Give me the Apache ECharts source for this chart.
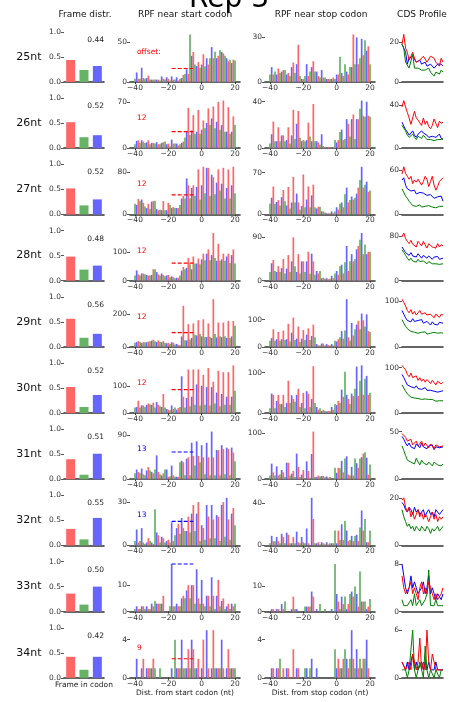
<!DOCTYPE html>
<html>
<head>
<meta charset="utf-8">
<script src="https://cdn.jsdelivr.net/npm/echarts@6/dist/echarts.min.js"></script>
<style>
html, body { margin: 0; padding: 0; background: #fff; }
#chart { width: 458px; height: 702px; }
</style>
</head>
<body>
<div id="chart"></div>
<script>
// read lengths, one row each
const readLengths = ['25nt', '26nt', '27nt', '28nt', '29nt', '30nt', '31nt', '32nt', '33nt', '34nt'];

// frame distribution (frame 0 red, frame 1 green, frame 2 blue)
const frame0 = [0.44, 0.52, 0.52, 0.48, 0.56, 0.52, 0.40, 0.33, 0.36, 0.42];
const frame1 = [0.24, 0.22, 0.18, 0.22, 0.18, 0.12, 0.09, 0.12, 0.14, 0.16];
const frame2 = [0.32, 0.26, 0.30, 0.30, 0.26, 0.36, 0.51, 0.55, 0.50, 0.42];

// p-site offset annotation
const offsetLabels = ['offset:', '12', '12', '12', '12', '12', '13', '13', '', '9'];
const offsetFrame = ['r', 'r', 'r', 'r', 'r', 'r', 'b', 'b', 'b', 'r'];
const offsetLineY = [17, 25, 37, 62, 88, 86, 56, 16.6, 18, 2];
const offsetLineX = [-18, -5];

// y tick shown besides 0
const startTicks = [50, 70, 80, 100, 200, 100, 90, 30, 10, 4];
const stopTicks = [30, 40, 70, 90, 100, 100, 100, 40, 10, 4];
const cdsTicks = [20, 40, 60, 80, 100, 100, 50, 20, 8, 6];

// positions -40 .. 20
const positions = [];
for (let p = -40; p <= 20; p++) positions.push(p);

// counts near start codon, positions -40..20
const start25 = [4, 12,4,4, 18,5,4, 5,8,3, 3,3,3, 3,3,2, 7,4,3, 6,4,2, 7,3,3, 6,2,4, 5,9,10, 16,10,60, 33,38,22, 20,25,18, 22,35,20, 30,22,30, 44,30,38, 30,33,40, 38,36,33, 30,26,28, 24,28,27];
const start26 = [6, 11,12,8, 12,10,8, 9,12,6, 8,8,7, 9,6,6, 8,9,10, 6,7,3, 13,7,7, 7,4,6, 8,10,16, 26,61,20, 27,50,22, 25,58,22, 28,42,30, 38,60,35, 45,63,30, 40,70,28, 35,72,25, 25,62,22, 25,48,35];
const start27 = [20, 18,29,25, 28,22,15, 12,20,10, 24,25,26, 10,8,9, 8,25,8, 8,22,18, 12,14,12, 12,12,18, 30,35,30, 68,55,30, 50,55,35, 52,85,28, 55,90,40, 88,88,35, 75,70,38, 60,85,45, 58,88,30, 50,85,30, 55,90,40];
const start28 = [18, 36,22,18, 25,25,22, 20,18,18, 20,40,40, 30,22,18, 25,20,15, 18,20,12, 15,12,8, 10,10,18, 35,48,40, 45,80,58, 40,85,60, 60,78,58, 75,95,72, 95,110,72, 90,168,80, 70,130,70, 75,95,70, 85,95,62, 90,110,60];
const start29 = [25, 30,35,30, 25,28,28, 28,32,35, 38,44,35, 30,40,30, 28,35,25, 22,25,18, 28,25,15, 18,12,10, 64,254,40, 40,140,45, 55,145,75, 70,165,80, 65,170,60, 60,145,60, 55,295,80, 58,150,65, 60,150,65, 55,160,55, 65,160,130];
const start30 = [20, 22,45,20, 28,28,22, 30,35,32, 30,38,20, 40,30,25, 22,70,20, 15,12,10, 28,15,20, 12,18,22, 135,60,20, 55,160,25, 60,160,30, 105,160,28, 100,140,30, 95,165,28, 95,115,35, 75,155,25, 70,150,30, 60,150,30, 60,175,82];
const start31 = [12, 20,15,12, 22,10,8, 18,25,18, 15,12,20, 49,15,10, 8,12,20, 20,5,6, 28,8,5, 5,5,35, 38,35,8, 42,45,8, 75,48,28, 78,48,35, 70,45,10, 75,45,8, 98,45,8, 60,60,8, 70,62,10, 65,62,8, 65,55,37];
const start32 = [3, 11,2,3, 12,2,1, 2,5,3, 2,1,25, 9,7,2, 6,5,2, 3,4,2, 16,3,7, 12,15,8, 19,12,10, 10,20,9, 22,28,10, 22,30,3, 14,12,4, 28,20,5, 28,18,5, 21,20,3, 28,30,6, 33,18,4, 22,26,14];
const start33 = [1, 2,1,1, 2,2,1, 2,1,1, 3,2,4, 3,3,3, 3,6,0, 0,0,2, 18,2,2, 3,2,2, 5,6,5, 8,10,5, 10,10,3, 16,5,3, 12,3,2, 6,6,2, 13,6,1, 6,12,2, 4,5,1, 2,3,1, 3,2,3];
const start34 = [0, 2,0,0, 1,2,0, 1,1,1, 1,2,1, 0,0,1, 0,0,0, 0,0,0, 1,0,4, 1,1,1, 4,1,1, 1,3,1, 4,3,1, 1,2,0, 1,4,0, 5,1,0, 1,5,1, 1,1,1, 4,1,0, 1,3,1, 1,1,1];
const startCounts = [start25, start26, start27, start28, start29, start30, start31, start32, start33, start34];

// counts near stop codon, positions -40..20
const stop25 = [5, 10,5,7, 5,9,6, 7,8,8, 5,6,4, 10,13,6, 12,25,4, 2,2,4, 12,4,7, 10,14,7, 7,4,3, 8,3,3, 2,2,2, 2,3,2, 5,5,17, 6,4,12, 7,5,10, 10,32,12, 30,12,16, 29,18,28, 21,24,12];
const stop26 = [4, 12,23,6, 6,18,6, 11,11,6, 7,18,4, 11,33,8, 21,32,9, 6,7,6, 7,22,10, 6,38,6, 6,5,3, 12,2,1, 1,1,1, 1,1,7, 5,7,14, 16,7,8, 25,21,10, 25,29,8, 25,25,34, 41,28,27, 40,28,27];
const stop27 = [18, 28,47,18, 21,24,15, 29,41,22, 15,46,10, 20,63,20, 35,20,8, 14,67,12, 25,47,12, 32,50,12, 10,13,13, 5,5,3, 2,2,2, 5,2,5, 12,8,18, 20,12,34, 45,20,24, 30,25,28, 35,45,58, 80,45,50, 55,38,40];
const stop28 = [18, 36,43,20, 18,30,18, 26,45,15, 25,53,18, 40,90,30, 18,55,15, 40,40,18, 40,60,14, 56,40,12, 20,15,20, 5,6,4, 5,3,4, 10,5,15, 20,12,30, 33,15,38, 72,20,40, 55,40,45, 65,72,85, 99,55,75, 55,60,60];
const stop29 = [22, 32,65,22, 28,55,22, 28,60,25, 28,85,20, 52,108,25, 30,75,18, 30,62,25, 45,68,25, 40,82,35, 10,5,5, 12,12,5, 10,6,5, 10,5,22, 20,28,35, 58,30,60, 176,35,22, 88,42,65, 82,96,65, 123,98,75, 120,58,55];
const stop30 = [12, 48,45,12, 30,45,22, 22,45,15, 25,80,25, 44,35,28, 45,60,15, 25,50,12, 54,48,15, 35,116,25, 15,8,12, 5,8,5, 4,5,5, 15,8,22, 20,30,25, 58,40,102, 45,35,22, 48,42,60, 115,42,80, 118,45,85, 92,45,50];
const stop31 = [8, 34,15,8, 28,8,10, 20,15,5, 36,36,8, 12,18,5, 56,27,5, 10,20,2, 39,18,3, 55,104,5, 5,8,6, 7,7,4, 6,3,5, 2,2,25, 14,25,24, 40,15,45, 50,10,8, 27,8,45, 35,25,45, 48,56,59, 47,10,32];
const stop32 = [2, 9,4,4, 8,4,2, 11,8,2, 12,10,2, 2,8,2, 13,3,2, 8,3,2, 16,2,0, 45,25,2, 2,3,1, 3,2,1, 3,1,2, 2,2,14, 2,14,5, 20,5,23, 14,4,5, 9,4,9, 10,4,17, 33,14,25, 3,3,14];
const stop33 = [0, 1,1,0, 1,1,0, 3,1,4, 0,0,0, 1,6,1, 1,0,0, 0,0,2, 2,2,2, 8,6,0, 1,0,3, 0,0,1, 0,0,0, 1,0,19, 7,4,1, 6,3,6, 1,3,7, 8,6,10, 7,2,16, 4,4,4, 1,2,5];
const stop34 = [0, 1,1,0, 1,1,2, 0,1,0, 1,1,0, 0,3,0, 1,1,0, 0,0,1, 1,0,1, 2,0,0, 1,0,0, 0,0,0, 0,0,0, 0,0,3, 1,2,1, 1,2,3, 2,1,2, 5,2,1, 3,1,2, 1,2,2, 4,1,0];
const stopCounts = [stop25, stop26, stop27, stop28, stop29, stop30, stop31, stop32, stop33, stop34];

// CDS profile per frame
const cdsRed = [
  [19,24,17,15,11,13,15,12,10,11,11,12,13,13,10,11,13,14,12,10,9,8,12,10],
  [38,44,38,33,28,22,21,34,28,26,25,21,28,22,25,20,18,21,27,23,19,25,23,24],
  [55,65,56,52,48,52,42,47,44,48,50,40,45,52,48,38,45,52,40,33,38,45,45,50],
  [78,85,75,70,66,72,65,68,60,70,66,62,70,64,58,66,68,60,62,58,66,60,64,62],
  [105,98,90,80,75,82,72,78,70,74,80,72,68,75,70,66,72,70,64,72,68,65,72,70],
  [105,100,95,85,80,88,78,75,82,72,78,70,75,68,74,70,65,72,68,62,70,66,64,68],
  [48,50,44,40,38,42,36,38,40,35,37,40,34,38,36,33,37,35,32,36,38,34,33,35],
  [19,20,16,14,16,12,14,11,13,15,12,14,11,13,12,10,12,14,11,13,10,12,11,12],
  [6,4,3,3,4,5,3,4,3,2,4,5,3,4,3,5,4,3,2,3,2,2,3,4],
  [2,2,1,1,2,1,3,2,1,2,5,1,2,1,6,2,1,3,2,1,1,1,1,1]
];
const cdsGreen = [
  [19,17,10,9,7,6,14,7,6,7,7,6,7,6,6,7,5,6,3,5,5,4,6,5],
  [21,22,16,12,10,11,13,10,8,11,12,9,12,10,8,7,8,9,7,6,8,9,8,9],
  [35,33,25,22,18,15,12,14,11,10,13,10,12,11,10,12,14,10,11,9,10,11,10,11],
  [55,50,45,40,36,40,35,36,33,38,34,31,35,33,30,34,32,30,33,30,32,29,31,30],
  [60,52,45,40,38,34,38,32,35,30,34,32,30,33,28,31,30,28,32,29,30,28,31,30],
  [62,55,48,42,40,35,38,33,36,32,34,30,32,31,28,30,27,30,28,26,28,27,26,27],
  [35,30,25,20,22,18,20,16,22,18,15,20,17,18,15,18,16,14,18,16,15,17,14,16],
  [15,12,10,8,9,7,8,6,8,7,6,8,7,6,8,7,5,7,6,7,8,6,7,8],
  [2,1,1,1,1,2,1,3,1,1,2,1,1,2,3,7,1,1,1,2,1,1,1,1],
  [1,1,1,0,1,1,6,1,0,1,2,1,0,4,1,0,1,1,0,1,1,0,1,1]
];
const cdsBlue = [
  [19,17,15,9,12,11,13,14,10,10,11,9,10,10,8,9,9,8,7,7,9,8,9,8],
  [24,23,17,15,12,14,16,12,10,13,12,16,14,13,12,10,9,11,12,10,9,13,9,8],
  [47,50,40,35,34,32,30,33,28,26,30,32,29,27,26,25,27,26,22,24,24,22,25,18],
  [60,58,50,48,45,50,44,46,42,48,44,40,45,42,40,44,41,38,42,40,43,38,41,40],
  [80,72,64,58,60,55,62,56,52,58,55,60,52,50,56,52,48,55,50,52,48,54,50,52],
  [85,78,70,62,66,58,62,55,60,54,58,52,55,56,50,54,50,52,48,50,46,50,48,49],
  [45,42,38,35,38,34,36,32,37,35,33,38,34,36,32,35,33,36,31,34,36,33,32,34],
  [18,17,15,14,16,15,13,16,14,15,13,14,15,12,14,15,13,14,12,15,14,13,14,15],
  [8,6,4,3,4,6,4,5,4,3,3,4,5,3,4,6,3,4,3,2,3,3,2,3],
  [2,2,1,2,1,1,3,1,2,1,1,2,1,2,1,2,1,1,1,2,1,1,1,1]
];

const FONT = '"DejaVu Sans", sans-serif';
const barColor = { r: '#ff6666', g: '#66b366', b: '#6666ff' };
const lineColor = { r: '#ff0000', g: '#008000', b: '#0000ff' };
// position -> frame colour
function frameOf(p) {
  const m = ((p % 3) + 3) % 3;
  return m === 0 ? 'b' : (m === 1 ? 'r' : 'g');
}
function minus(v) {
  return v < 0 ? '\u2212' + (-v) : String(v);
}

const ROW0 = 32, PITCH = 66.2, H = 50;
const cols = [
  { left: 64, width: 40 },
  { left: 130, width: 110 },
  { left: 265, width: 110 },
  { left: 402, width: 41 }
];

const grids = [], xAxes = [], yAxes = [], series = [], graphics = [];

const tickLabel = { fontSize: 7.5, color: '#333', fontFamily: FONT, margin: 3 };
const axisBase = { lineStyle: { color: '#333', width: 1.6 } };

function yAxisFor(gi, max, ticks, fmt) {
  return {
    type: 'value', gridIndex: gi, min: 0, max: max,
    splitLine: { show: false },
    axisLine: { show: false, onZero: false },
    axisTick: { show: true, length: 3, lineStyle: { color: '#555' }, customValues: ticks },
    axisLabel: Object.assign({}, tickLabel, { customValues: ticks, formatter: fmt || (v => String(v)) })
  };
}

readLengths.forEach((name, i) => {
  const top = ROW0 + i * PITCH;
  cols.forEach(c => {
    grids.push({ left: c.left, width: c.width, top: top, height: H });
  });
  const g0 = i * 4;

  // frame distribution
  xAxes.push({
    type: 'category', gridIndex: g0, data: ['0', '1', '2'],
    axisLine: axisBase, axisTick: { show: false }, axisLabel: { show: false }
  });
  yAxes.push(yAxisFor(g0, 1, [0, 0.5, 1], v => v.toFixed(1)));
  const fr = [frame0[i], frame1[i], frame2[i]];
  series.push({
    type: 'bar', xAxisIndex: g0, yAxisIndex: g0, barWidth: 9,
    data: [
      { value: fr[0], itemStyle: { color: barColor.r } },
      { value: fr[1], itemStyle: { color: barColor.g } },
      { value: fr[2], itemStyle: { color: barColor.b } }
    ]
  });
  graphics.push({
    type: 'text', x: 104, y: top + 8,
    style: { text: Math.max(...fr).toFixed(2), font: '7.5px ' + FONT, fill: '#222', textAlign: 'right', textVerticalAlign: 'middle' }
  });
  graphics.push({
    type: 'text', x: 29, y: top + 25,
    style: { text: name, font: '11px ' + FONT, fill: '#111', textAlign: 'center', textVerticalAlign: 'middle' }
  });

  // start and stop codon bars
  [[startCounts[i], startTicks[i]], [stopCounts[i], stopTicks[i]]].forEach(([counts, tick], k) => {
    const gi = g0 + 1 + k;
    xAxes.push({
      type: 'value', gridIndex: gi, min: -43, max: 23,
      splitLine: { show: false },
      axisLine: axisBase,
      axisTick: { show: true, length: 2, lineStyle: { color: '#333' }, customValues: [-40, -20, 0, 20] },
      axisLabel: Object.assign({}, tickLabel, { margin: 2, customValues: [-40, -20, 0, 20], formatter: minus })
    });
    yAxes.push(yAxisFor(gi, Math.max(...counts) * 1.05, [0, tick]));
    ['b', 'r', 'g'].forEach(f => {
      series.push({
        type: 'bar', xAxisIndex: gi, yAxisIndex: gi, barWidth: 1.7, barGap: '-100%',
        itemStyle: { color: barColor[f] },
        data: positions.map((p, j) => [p, counts[j]]).filter(d => frameOf(d[0]) === f)
      });
    });
    if (k === 0) {
      const col = lineColor[offsetFrame[i]];
      series.push({
        type: 'line', xAxisIndex: gi, yAxisIndex: gi, symbol: 'none', z: 5,
        lineStyle: { color: col, type: [4, 2], width: 1.2 },
        data: [[offsetLineX[0], offsetLineY[i]], [offsetLineX[1], offsetLineY[i]]]
      });
      graphics.push({
        type: 'text', x: 137, y: top + 20,
        style: { text: offsetLabels[i], font: '7.5px ' + FONT, fill: col, textAlign: 'left', textVerticalAlign: 'middle' }
      });
    }
  });

  // CDS profile
  const g3 = g0 + 3;
  xAxes.push({
    type: 'category', gridIndex: g3, boundaryGap: false,
    data: cdsRed[i].map((_, j) => j),
    axisLine: axisBase, axisTick: { show: false }, axisLabel: { show: false }
  });
  const cmax = Math.max(...cdsRed[i], ...cdsGreen[i], ...cdsBlue[i]) * 1.05;
  yAxes.push(yAxisFor(g3, cmax, [0, cdsTicks[i]]));
  [['b', cdsBlue[i]], ['g', cdsGreen[i]], ['r', cdsRed[i]]].forEach(([f, vals]) => {
    series.push({
      type: 'line', xAxisIndex: g3, yAxisIndex: g3, symbol: 'none',
      lineStyle: { color: lineColor[f], width: 1 },
      data: vals
    });
  });
});

// titles and axis names
graphics.push({ type: 'text', x: 229, y: 0, style: { text: 'Rep 3', font: '28px ' + FONT, fill: '#000', textAlign: 'center', textVerticalAlign: 'middle' } });
[['Frame distr.', 85], ['RPF near start codon', 185], ['RPF near stop codon', 321], ['CDS Profile', 422]].forEach(([t, x]) => {
  graphics.push({ type: 'text', x: x, y: 15, style: { text: t, font: '9px ' + FONT, fill: '#111', textAlign: 'center', textVerticalAlign: 'middle' } });
});
graphics.push({ type: 'text', x: 84, y: 685, style: { text: 'Frame in codon', font: '7.5px ' + FONT, fill: '#222', textAlign: 'center', textVerticalAlign: 'middle' } });
graphics.push({ type: 'text', x: 185, y: 693, style: { text: 'Dist. from start codon (nt)', font: '7.5px ' + FONT, fill: '#222', textAlign: 'center', textVerticalAlign: 'middle' } });
graphics.push({ type: 'text', x: 320, y: 693, style: { text: 'Dist. from stop codon (nt)', font: '7.5px ' + FONT, fill: '#222', textAlign: 'center', textVerticalAlign: 'middle' } });

const chart = echarts.init(document.getElementById('chart'));
chart.setOption({
  animation: false,
  backgroundColor: '#fff',
  grid: grids,
  xAxis: xAxes,
  yAxis: yAxes,
  series: series,
  graphic: graphics
});
</script>
</body>
</html>
